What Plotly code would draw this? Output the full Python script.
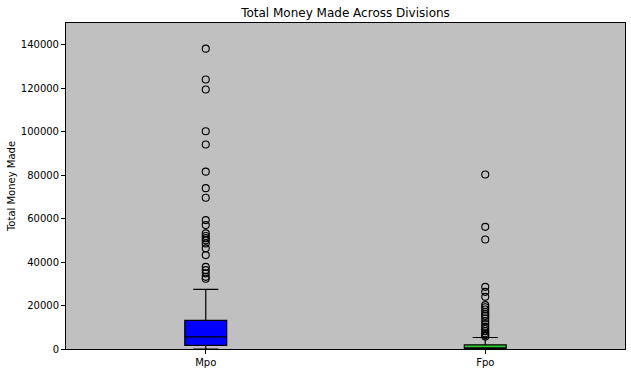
import plotly.graph_objects as go

categories = ["Mpo", "Fpo"]
positions = [1, 2]
q1_vals = [1700, 100]
median_vals = [5600, 500]
q3_vals = [13200, 1900]
lower_fence = [0, 0]
upper_fence = [27400, 5300]
box_colors = ["#0000ff", "#32cd32"]

mpo_outliers = [138200, 124000, 119400, 100200, 94100, 81600, 74000, 69600,
                59300, 57000, 53200, 52000, 51000, 50000, 48600, 46300, 43200,
                37800, 36300, 34800, 33200, 32300]
fpo_outliers = [80300, 56200, 50400, 28600, 26300, 24000, 20200, 19200, 18200,
                17000, 16000, 15200, 14000, 12800, 11500, 10200, 9200, 8200,
                7200, 6400, 5800]
outliers = [mpo_outliers, fpo_outliers]

y_ticks = [0, 20000, 40000, 60000, 80000, 100000, 120000, 140000]

fig = go.Figure()
for i, cat in enumerate(categories):
    fig.add_trace(go.Box(
        x=[positions[i]], q1=[q1_vals[i]], median=[median_vals[i]], q3=[q3_vals[i]],
        lowerfence=[lower_fence[i]], upperfence=[upper_fence[i]],
        width=0.15, whiskerwidth=0.6, fillcolor=box_colors[i],
        line=dict(color="black", width=1.2), boxpoints=False,
        name=cat, showlegend=False, hoverinfo="skip"))
    fig.add_trace(go.Scatter(
        x=[positions[i]] * len(outliers[i]), y=outliers[i], mode="markers",
        marker=dict(symbol="circle-open", size=7, color="black", line=dict(width=1.1)),
        showlegend=False, hoverinfo="skip"))

axis_font = dict(family="DejaVu Sans", size=10, color="black")
fig.update_layout(
    width=631, height=373,
    margin=dict(l=66, r=6, t=23, b=24),
    paper_bgcolor="white", plot_bgcolor="#c0c0c0",
    title=dict(text="Total Money Made Across Divisions", x=(66 + 625) / 2 / 631,
               xanchor="center", y=1 - 13 / 373, yanchor="middle", yref="container",
               font=dict(family="DejaVu Sans", size=12, color="black")),
    xaxis=dict(range=[0.5, 2.5], tickvals=positions, ticktext=categories,
               showgrid=False, zeroline=False, showline=True, linecolor="black",
               linewidth=1, mirror=True, ticks="outside", ticklen=4, tickcolor="black",
               tickfont=axis_font),
    yaxis=dict(range=[0, 150000], tickvals=y_ticks, ticktext=[str(v) for v in y_ticks],
               showgrid=False, zeroline=False, showline=True, linecolor="black",
               linewidth=1, mirror=True, ticks="outside", ticklen=4, tickcolor="black",
               tickfont=axis_font,
               title=dict(text="Total Money Made", font=axis_font, standoff=3)),
)

fig.write_html("out.html")
